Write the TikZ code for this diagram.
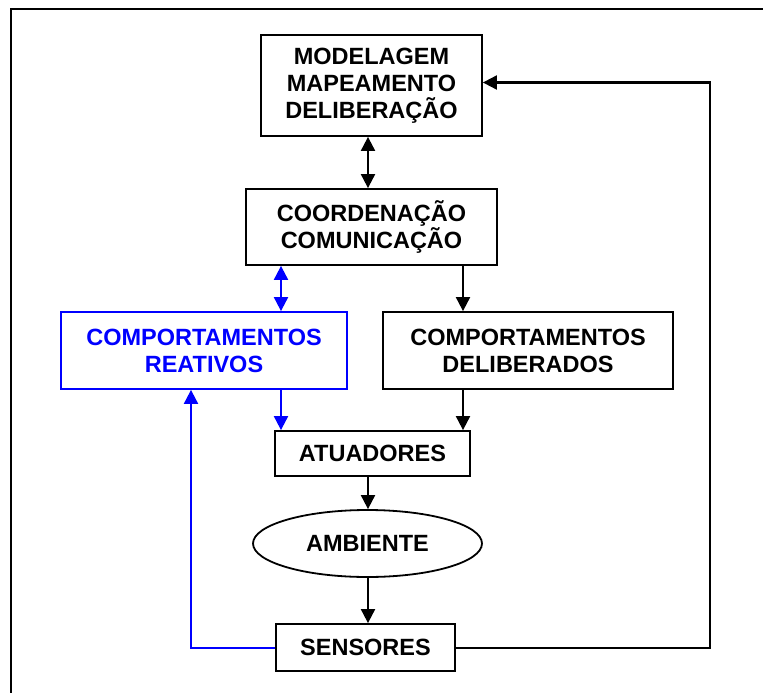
\documentclass[tikz,border=0pt]{standalone}
\usepackage{fontspec}
\setmainfont{Liberation Sans}
\usetikzlibrary{arrows.meta,shapes.geometric}
\begin{document}
\begin{tikzpicture}[x=1pt,y=-1pt,
  box/.style={draw, line width=1.8pt, rectangle, inner sep=0pt, align=center,
    font=\fontsize{23.5}{27}\selectfont\bfseries},
  bluebox/.style={box, draw=blue, text=blue},
  ellbox/.style={box, ellipse},
  arr/.style={line width=2pt, -{Triangle[length=14pt,width=14pt]}},
  darr/.style={line width=2pt, {Triangle[length=14pt,width=14pt]}-{Triangle[length=14pt,width=14pt]}},
]
\useasboundingbox (0,0) rectangle (763,693);
\clip (0,0) rectangle (763,693);
\draw[line width=2pt] (10.5,9) rectangle (800,720);

\node[box, minimum width=221pt, minimum height=101pt] (model) at (371.5,85.5)
  {MODELAGEM\\MAPEAMENTO\\DELIBERAÇÃO};
\node[box, minimum width=251pt, minimum height=76pt] (coord) at (371.5,227)
  {COORDENAÇÃO\\COMUNICAÇÃO};
\node[bluebox, minimum width=286pt, minimum height=77pt] (reat) at (204,350.5)
  {COMPORTAMENTOS\\REATIVOS};
\node[box, minimum width=290pt, minimum height=77pt] (delib) at (528,350.5)
  {COMPORTAMENTOS\\DELIBERADOS};
\node[box, minimum width=195pt, minimum height=45pt] (atu) at (372.5,453.5)
  {ATUADORES};
\node[ellbox, minimum width=229pt, minimum height=67pt] (amb) at (367.5,543.5)
  {AMBIENTE};
\node[box, minimum width=179pt, minimum height=47pt] (sens) at (365.5,647.5)
  {SENSORES};

\coordinate (xa) at (368,0);
\coordinate (xb) at (281,0);
\coordinate (xc) at (463,0);
\coordinate (xl) at (191,0);
\coordinate (xr) at (709.5,0);
\coordinate (ytop) at (0,82.5);

\draw[darr] (model.south -| xa) -- (coord.north -| xa);
\draw[darr, blue] (coord.south -| xb) -- (reat.north -| xb);
\draw[arr] (coord.south -| xc) -- (delib.north -| xc);
\draw[arr, blue] (reat.south -| xb) -- (atu.north -| xb);
\draw[arr] (delib.south -| xc) -- (atu.north -| xc);
\draw[arr] (atu.south -| xa) -- (amb.north -| xa);
\draw[arr] (amb.south -| xa) -- (sens.north -| xa);
\draw[arr, blue] (sens.west) -| (reat.south -| xl);
\draw[arr] (sens.east) -| (xr |- ytop) -- (model.east |- ytop);
\end{tikzpicture}
\end{document}
